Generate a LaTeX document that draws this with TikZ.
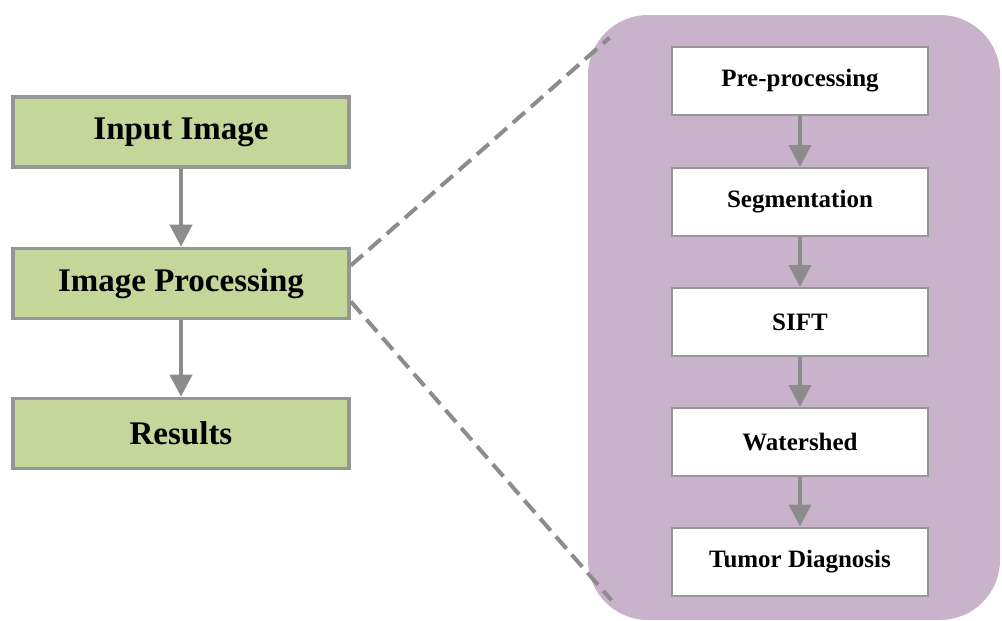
\documentclass[tikz,border=0pt]{standalone}
\usepackage{fontspec}
\setmainfont{Liberation Serif}
\usetikzlibrary{arrows.meta}
\definecolor{leafgreen}{RGB}{197,214,155}
\definecolor{mauve}{RGB}{201,179,202}
\definecolor{edgegray}{RGB}{150,150,150}
\definecolor{arrowgray}{RGB}{140,140,140}

\begin{document}
\begin{tikzpicture}[x=0.5pt, y=-0.5pt,
  >={Triangle[width=11pt,length=11pt]},
  mainbox/.style={draw=edgegray, line width=1.8pt, fill=leafgreen,
    minimum width=168pt, minimum height=35pt, inner sep=0pt,
    font=\fontsize{16.5}{18}\selectfont\bfseries},
  stagebox/.style={draw=edgegray, line width=1pt, fill=white,
    minimum width=128pt, minimum height=34pt, inner sep=0pt,
    font=\fontsize{12.5}{14}\selectfont\bfseries},
  flow/.style={->, arrowgray, line width=2pt},
  zoomline/.style={arrowgray, line width=2pt, dash pattern=on 8pt off 4pt}]
  \useasboundingbox (0,0) rectangle (1002,621);

  % Zoom panel
  \node[fill=mauve, rounded corners=30pt, minimum width=206pt,
    minimum height=302.5pt, inner sep=0pt] (panel) at (794,317.5) {};

  % Main flow
  \node[mainbox] (input) at (181,132) {Input Image};
  \node[mainbox] (proc) at (181,283.5) {Image Processing};
  \node[mainbox] (result) at (181,433.5) {Results};
  \draw[flow] (input) -- (proc);
  \draw[flow] (proc) -- (result);

  % Stages inside the panel
  \node[stagebox] (pre) at (800,81) {Pre-processing};
  \node[stagebox] (seg) at (800,202) {Segmentation};
  \node[stagebox] (sift) at (800,322) {SIFT};
  \node[stagebox] (water) at (800,442) {Watershed};
  \node[stagebox] (diag) at (800,561.5) {Tumor Diagnosis};
  \draw[flow] (pre) -- (seg);
  \draw[flow] (seg) -- (sift);
  \draw[flow] (sift) -- (water);
  \draw[flow] (water) -- (diag);

  % Zoom lines
  \draw[zoomline] ([yshift=9pt]proc.east) -- ([xshift=11pt,yshift=-11.5pt]panel.north west);
  \draw[zoomline] ([yshift=-9pt]proc.east) -- ([xshift=12pt,yshift=10pt]panel.south west);
\end{tikzpicture}
\end{document}
